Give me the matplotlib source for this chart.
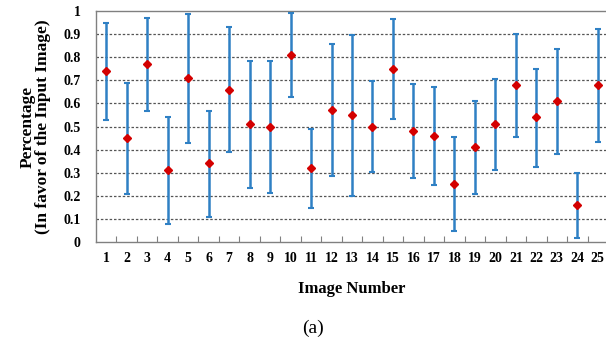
import matplotlib
matplotlib.use("Agg")
import matplotlib.pyplot as plt
import numpy as np

images = list(range(1, 26))
mean = [0.74, 0.45, 0.77, 0.31, 0.71, 0.34, 0.66, 0.51, 0.50, 0.81, 0.32, 0.57, 0.55,
        0.50, 0.75, 0.48, 0.46, 0.25, 0.41, 0.51, 0.68, 0.54, 0.61, 0.16, 0.68]
upper = [0.95, 0.69, 0.97, 0.54, 0.985, 0.565, 0.93, 0.785, 0.785, 0.99, 0.49, 0.855, 0.897,
         0.695, 0.965, 0.683, 0.672, 0.455, 0.612, 0.706, 0.90, 0.75, 0.837, 0.30, 0.922]
lower = [0.527, 0.209, 0.565, 0.078, 0.43, 0.11, 0.39, 0.232, 0.211, 0.626, 0.149, 0.284, 0.201,
         0.304, 0.532, 0.276, 0.247, 0.046, 0.206, 0.31, 0.456, 0.326, 0.38, 0.017, 0.434]
yticks = [0, 0.1, 0.2, 0.3, 0.4, 0.5, 0.6, 0.7, 0.8, 0.9, 1]
ytick_labels = ["0", "0.1", "0.2", "0.3", "0.4", "0.5", "0.6", "0.7", "0.8", "0.9", "1"]

plt.rcParams['font.family'] = ['Liberation Serif', 'DejaVu Serif']

fig = plt.figure(figsize=(6.06, 3.42), dpi=100)
ax = fig.add_axes([96/606, 1-242/342, 512/606, 231/342])

m = np.array(mean)
yerr = [m - np.array(lower), np.array(upper) - m]
ax.errorbar(images, mean, yerr=yerr, fmt='none', ecolor='#2F80C4', elinewidth=1.8,
            capsize=2.5, capthick=1.5, zorder=3)
ax.plot(images, mean, linestyle='none', marker='D', markersize=4, color='#D40000', zorder=4)

ax.set_xlim(0.5, 25.5)
ax.set_ylim(0, 1)
ax.set_yticks(yticks)
ax.set_yticklabels(ytick_labels, fontsize=10, fontweight='bold')
ax.tick_params(axis='y', length=0, pad=11)
ax.set_xticks(images)
ax.set_xticklabels([str(i) for i in images], fontsize=10, fontweight='bold')
ax.tick_params(axis='x', which='major', length=0, pad=7)
ax.set_xticks(np.arange(1.5, 25.5, 1.0), minor=True)
ax.tick_params(axis='x', which='minor', direction='in', length=4, color='#808080', width=0.8)

for y in yticks[1:-1]:
    ax.axhline(y, color='#555555', linestyle=(0, (2, 1.5)), linewidth=0.9, zorder=1)

for s in ['top', 'left', 'bottom', 'right']:
    ax.spines[s].set_color('#808080')
    ax.spines[s].set_linewidth(1.0)

ax.set_xlabel('Image Number', fontsize=12, fontweight='bold', labelpad=12)
ax.set_ylabel('Percentage\n(In favor of the Input Image)', fontsize=12.5, fontweight='bold',
              labelpad=9, linespacing=0.95)

fig.text(313/606, 1-328/342, '(a)', fontsize=14, ha='center', va='center')

fig.savefig('out.png', dpi=100)
